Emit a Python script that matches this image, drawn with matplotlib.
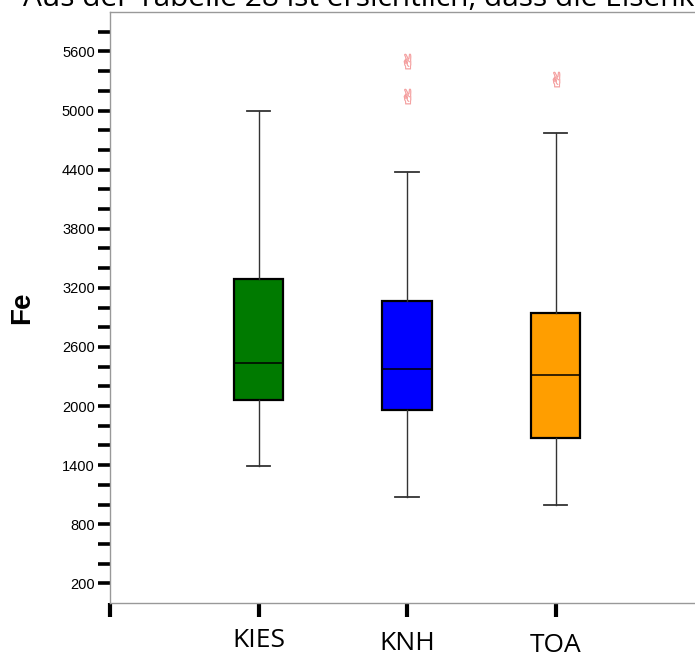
import matplotlib
matplotlib.use("Agg")
import matplotlib.pyplot as plt
import matplotlib.transforms as mtransforms

# group statistics (Fe)
groups = ['KIES', 'KNH', 'TOA']
whis_lo = [1390, 1072, 991]
q1 = [2057, 1955, 1671]
medians = [2432, 2374, 2310]
q3 = [3287, 3064, 2949]
whis_hi = [5000, 4373, 4775]
fliers = [[], [5505, 5150], [5323]]
colors = ['#007a00', '#0000ff', '#ff9e00']
label_drop = [0, 3.5, 5]  # px, the labels sit at slightly different heights

stats = []
for i, g in enumerate(groups):
    stats.append({'label': g, 'whislo': whis_lo[i], 'q1': q1[i], 'med': medians[i],
                  'q3': q3[i], 'whishi': whis_hi[i], 'fliers': fliers[i]})

fig = plt.figure(figsize=(6.95, 6.53), dpi=100)
ax = fig.add_axes([110 / 695, 50 / 653, 1 - 110 / 695, 591 / 653])

bp = ax.bxp(stats, positions=[1, 2, 3], widths=0.33, capwidths=0.155,
            patch_artist=True, showfliers=True,
            boxprops=dict(edgecolor='black', linewidth=1.6),
            medianprops=dict(color='black', linewidth=1.1),
            whiskerprops=dict(color='#333333', linewidth=1.0),
            capprops=dict(color='#333333', linewidth=1.3),
            flierprops=dict(marker='$\u270c$', markersize=11,
                            markerfacecolor='#f49a9a', markeredgecolor='#f49a9a',
                            markeredgewidth=0.3, linestyle='none'))
for patch, c in zip(bp['boxes'], colors):
    patch.set_facecolor(c)

ax.set_xlim(0, 585 / 148.5)
ax.set_ylim(0, 6000)

ax.set_xticks([0, 1, 2, 3])
ax.set_xticklabels([''] + groups, fontfamily='Open Sans', fontsize=19)
ax.tick_params(axis='x', length=10, width=3, color='black', pad=8)
for lab, d in zip(ax.get_xticklabels()[1:], label_drop):
    lab.set_transform(lab.get_transform() +
                      mtransforms.ScaledTranslation(0, -d / 100, fig.dpi_scale_trans))

ax.set_yticks(list(range(200, 6000, 600)))
ax.set_yticks(list(range(400, 6000, 200)), minor=True)
ax.tick_params(axis='y', which='both', length=9, width=2.6, color='black', pad=2,
               labelsize=10.5)
for lab in ax.get_yticklabels():
    lab.set_fontfamily('Liberation Sans')

ylab = ax.set_ylabel('Fe', family='Liberation Sans', weight='bold', size=20)
ylab.set_verticalalignment('center')
ax.yaxis.set_label_coords((22 - 110) / 585, 0.5)

for s in ['left', 'bottom', 'top']:
    ax.spines[s].set_color('#999999')
    ax.spines[s].set_linewidth(1.0)
ax.spines['right'].set_visible(False)

# cut-off line of running text above the chart
fig.text(23 / 695, 1 - 6 / 653, 'Aus der Tabelle 28 ist ersichtlich, dass die Eisenkonzentration',
         fontfamily='Open Sans', fontsize=21.5, va='baseline', ha='left', color='black')

fig.savefig('out.png', dpi=100)
